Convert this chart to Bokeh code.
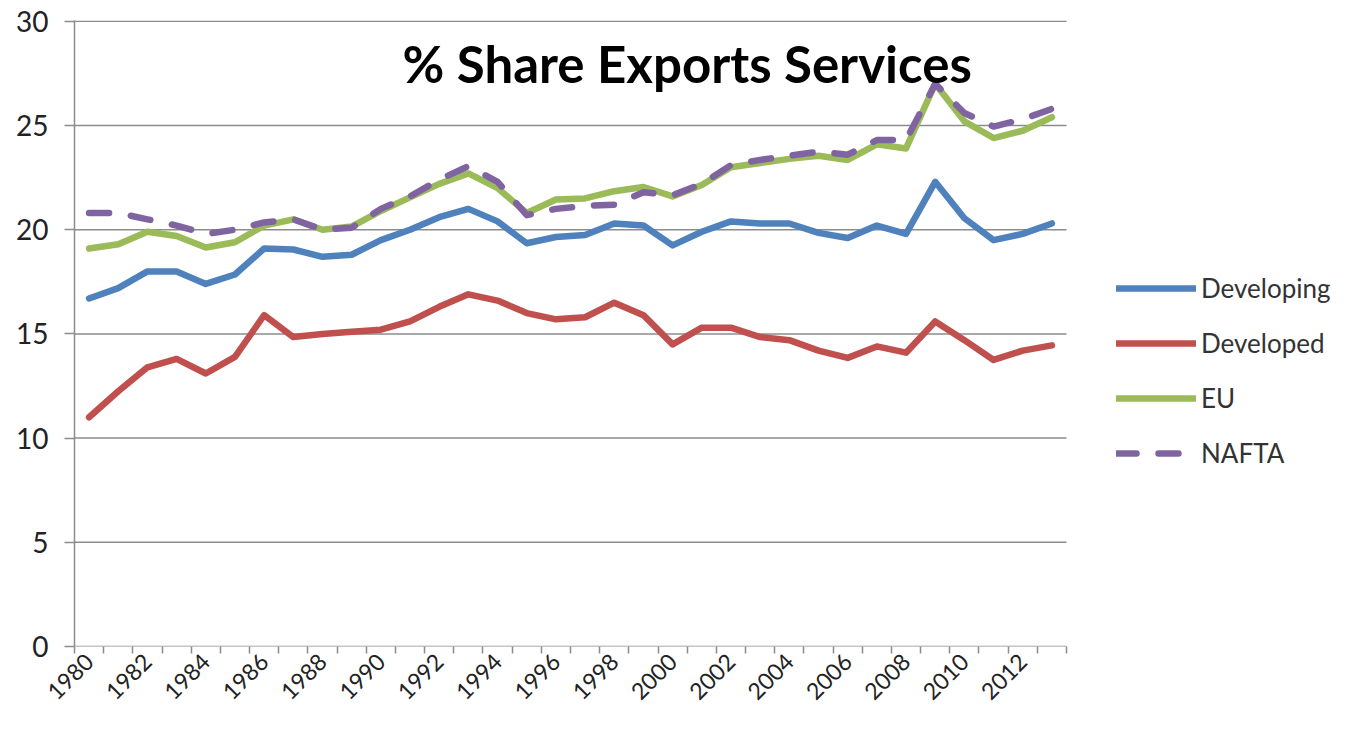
from bokeh.plotting import figure
from bokeh.models import Range1d, FixedTicker, Label, Legend, LegendItem
from bokeh.embed import file_html
from bokeh.resources import INLINE

years = list(range(1980, 2014))
developing = [16.7, 17.2, 18.0, 18.0, 17.4, 17.85, 19.1, 19.05, 18.7, 18.8,
              19.5, 20.0, 20.6, 21.0, 20.4, 19.35, 19.65, 19.75, 20.3, 20.2,
              19.25, 19.9, 20.4, 20.3, 20.3, 19.85, 19.6, 20.2, 19.8, 22.3,
              20.55, 19.5, 19.8, 20.3]
developed = [11.0, 12.25, 13.4, 13.8, 13.1, 13.9, 15.9, 14.85, 15.0, 15.1,
             15.2, 15.6, 16.3, 16.9, 16.6, 16.0, 15.7, 15.8, 16.5, 15.9,
             14.5, 15.3, 15.3, 14.85, 14.7, 14.2, 13.85, 14.4, 14.1, 15.6,
             14.7, 13.75, 14.2, 14.45]
eu = [19.1, 19.3, 19.9, 19.7, 19.15, 19.4, 20.2, 20.5, 20.0, 20.15,
      20.9, 21.55, 22.2, 22.7, 22.0, 20.8, 21.45, 21.5, 21.85, 22.05,
      21.6, 22.15, 23.0, 23.2, 23.4, 23.55, 23.35, 24.1, 23.9, 27.0,
      25.2, 24.4, 24.75, 25.4]
nafta = [20.8, 20.8, 20.5, 20.2, 19.8, 20.0, 20.35, 20.5, 20.0, 20.1,
         21.0, 21.6, 22.4, 23.05, 22.3, 20.7, 21.0, 21.15, 21.2, 21.8,
         21.65, 22.2, 23.1, 23.35, 23.55, 23.75, 23.6, 24.3, 24.3, 27.0,
         25.6, 24.95, 25.3, 25.8]
year_labels = list(range(1980, 2013, 2))
y_ticks = [0, 5, 10, 15, 20, 25, 30]
title_text = "% Share Exports Services"

FONT = "Lato"
GRID = "#8c8c8c"
W, H = 1336, 714
LEFT, TOP, BOTTOM = 74, 20, 68
PLOT_W = 992                      # width of the gridded plot area in px
FRAME_W = W - LEFT                # frame extends under the legend
x0 = years[0] - 0.5
x1 = years[-1] + 0.5
x_end = x0 + (x1 - x0) * FRAME_W / PLOT_W

p = figure(width=W, height=H, output_backend="svg", toolbar_location=None,
           x_range=Range1d(x0, x_end), y_range=Range1d(0, 30.04),
           min_border_left=LEFT, min_border_right=0, min_border_top=TOP,
           min_border_bottom=BOTTOM)
p.outline_line_color = None
p.background_fill_color = "white"
p.border_fill_color = "white"
p.xgrid.grid_line_color = None
p.ygrid.grid_line_color = None

# horizontal gridlines (including the x axis line at 0) limited to the plot area
p.segment(x0=[x0] * len(y_ticks), y0=y_ticks, x1=[x1] * len(y_ticks), y1=y_ticks,
          line_color=GRID, line_width=1.5)

xa = p.xaxis[0]
xa.ticker = FixedTicker(ticks=year_labels, minor_ticks=[y - 0.5 for y in years] + [x1])
xa.major_label_orientation = 0.785398
xa.major_tick_out = 0
xa.major_tick_in = 0
xa.minor_tick_out = 7
xa.minor_tick_in = 0
xa.minor_tick_line_color = GRID
xa.minor_tick_line_width = 1.5
xa.axis_line_color = None
xa.major_label_text_font = FONT
xa.major_label_text_font_size = "23px"
xa.major_label_text_color = "#222222"
xa.major_label_standoff = 4

ya = p.yaxis[0]
ya.ticker = FixedTicker(ticks=y_ticks)
ya.major_tick_out = 10
ya.major_tick_in = 0
ya.minor_tick_line_color = None
ya.major_tick_line_color = GRID
ya.major_tick_line_width = 1.5
ya.axis_line_color = GRID
ya.axis_line_width = 1.5
ya.major_label_text_font = FONT
ya.major_label_text_font_size = "28px"
ya.major_label_text_color = "#222222"
ya.major_label_standoff = 16

series = [
    ("Developing", developing, "#4F81BD", "solid"),
    ("Developed", developed, "#C0504D", "solid"),
    ("EU", eu, "#9BBB59", "solid"),
    ("NAFTA", nafta, "#8064A2", "20 22"),
]
items = []
for name, vals, col, dash in series:
    r = p.line(years, vals, line_width=6.5, line_color=col, line_dash=dash,
               line_join="round", line_cap="round")
    items.append(LegendItem(label=name, renderers=[r]))

leg = Legend(items=items, location=(PLOT_W + 50, 176))
leg.padding = 0
leg.margin = 0
leg.border_line_color = None
leg.background_fill_alpha = 0
leg.glyph_width = 80
leg.glyph_height = 34
leg.label_height = 34
leg.spacing = 21
leg.label_standoff = 5
leg.label_text_font = FONT
leg.label_text_font_size = "26px"
leg.label_text_color = "#333333"
p.add_layout(leg, "center")

p.add_layout(Label(x=2000.5, y=28, text=title_text, text_align="center",
                   text_baseline="alphabetic", text_font=FONT,
                   text_font_style="bold", text_font_size="51px", text_color="black"))

open("out.html", "w").write(file_html(p, INLINE))
